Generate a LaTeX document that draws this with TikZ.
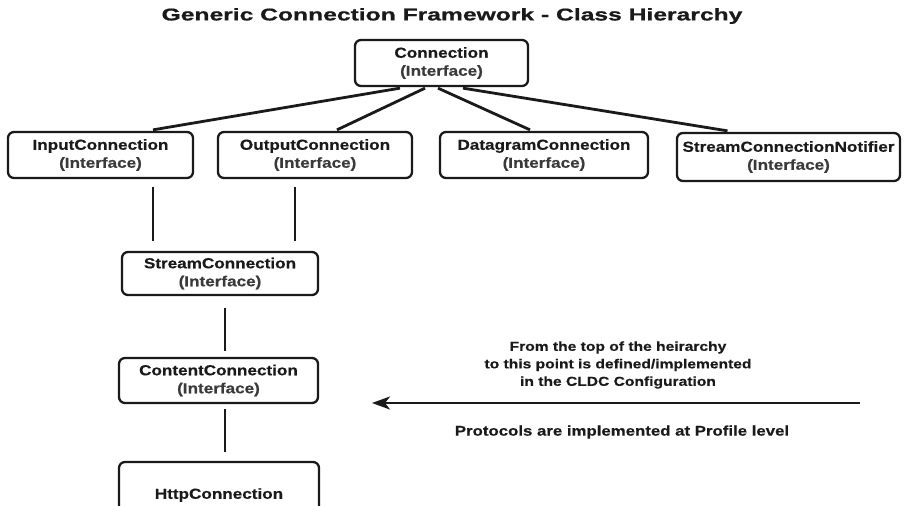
\documentclass[tikz,border=0pt]{standalone}
\usepackage{fontspec}
\setmainfont{Liberation Sans}
\newfontfamily\titlefont[FakeStretch=1.45,FakeBold=0.8]{Liberation Sans}
\newfontfamily\boxfont[FakeStretch=1.18,FakeBold=0.4]{Liberation Sans}
\newfontfamily\notefont[FakeStretch=1.2,FakeBold=0.4]{Liberation Sans}
\usetikzlibrary{arrows.meta,calc}
\definecolor{ink}{HTML}{1A1A1A}
\definecolor{soft}{HTML}{3A3A3A}
\begin{document}
\begin{tikzpicture}[x=1pt,y=-1pt,
  ibox/.style={draw=ink, line width=2.3pt, rounded corners=6pt, align=center,
    inner sep=0pt, font=\boxfont\bfseries\fontsize{14.5}{18}\selectfont, text=ink},
  link/.style={draw=ink, line width=2.8pt},
  sub/.style={text=soft}]
\useasboundingbox (0,0) rectangle (905,506);
\clip (0,0) rectangle (905,506);
\fill[white] (0,0) rectangle (905,506);

\node[font=\titlefont\bfseries\fontsize{17}{20}\selectfont, text=ink] (title) at (452,16)
  {Generic Connection Framework - Class Hierarchy};

\node[ibox, minimum width=173pt, minimum height=46pt] (conn) at (441.5,63)
  {Connection\\\textcolor{soft}{(Interface)}};

\node[ibox, minimum width=185pt, minimum height=46pt] (in) at (100.5,155)
  {InputConnection\\\textcolor{soft}{(Interface)}};
\node[ibox, minimum width=194pt, minimum height=46pt] (out) at (315,155)
  {OutputConnection\\\textcolor{soft}{(Interface)}};
\node[ibox, minimum width=208pt, minimum height=46pt] (dg) at (544,155)
  {DatagramConnection\\\textcolor{soft}{(Interface)}};
\node[ibox, minimum width=223pt, minimum height=48pt] (scn) at (788.5,157)
  {StreamConnectionNotifier\\\textcolor{soft}{(Interface)}};

\node[ibox, minimum width=196pt, minimum height=43pt] (stream) at (220,273.5)
  {StreamConnection\\\textcolor{soft}{(Interface)}};
\node[ibox, minimum width=199pt, minimum height=45pt] (content) at (218.5,380.5)
  {ContentConnection\\\textcolor{soft}{(Interface)}};
\node[ibox, minimum width=200pt, minimum height=66pt] (http) at (219,495)
  {HttpConnection};

% Connection -> row 2
\draw[link] ($(conn.south)+(-41.5,1)$) -- ($(in.north)+(52.5,-1)$);
\draw[link] ($(conn.south)+(-16.5,1)$) -- ($(out.north)+(22,-1)$);
\draw[link] ($(conn.south)+(-3.5,1)$) -- ($(dg.north)+(-14,-1)$);
\draw[link] ($(conn.south)+(21.5,1)$) -- ($(scn.north)+(-61,-1)$);

% row 2 -> StreamConnection
\coordinate (inB) at ($(in.south)+(52.5,0)$);
\coordinate (outB) at ($(out.south)+(-20,0)$);
\coordinate (strB) at ($(stream.south)+(5,0)$);
\coordinate (conB) at ($(content.south)+(6.5,0)$);
\draw[link, shorten <=8pt, shorten >=10pt] (inB) -- (inB |- stream.north);
\draw[link, shorten <=8pt, shorten >=10pt] (outB) -- (outB |- stream.north);

% chain
\draw[link, shorten <=12pt, shorten >=6pt] (strB) -- (strB |- content.north);
\draw[link, shorten <=5pt, shorten >=9pt] (conB) -- (conB |- http.north);

% note arrow
\coordinate (arrS) at (860,403);
\coordinate (arrE) at (372,403);
\draw[draw=ink, line width=2.6pt, -{Stealth[length=18pt,width=13pt,inset=5pt]}] (arrS) -- (arrE);

\node[align=center, text=ink, font=\notefont\bfseries\fontsize{13}{17.5}\selectfont] (note) at (618,365)
  {From the top of the heirarchy\\to this point is defined/implemented\\in the CLDC Configuration};
\node[text=ink, font=\notefont\bfseries\fontsize{14}{17}\selectfont] (proto) at (622,432)
  {Protocols are implemented at Profile level};
\end{tikzpicture}
\end{document}
